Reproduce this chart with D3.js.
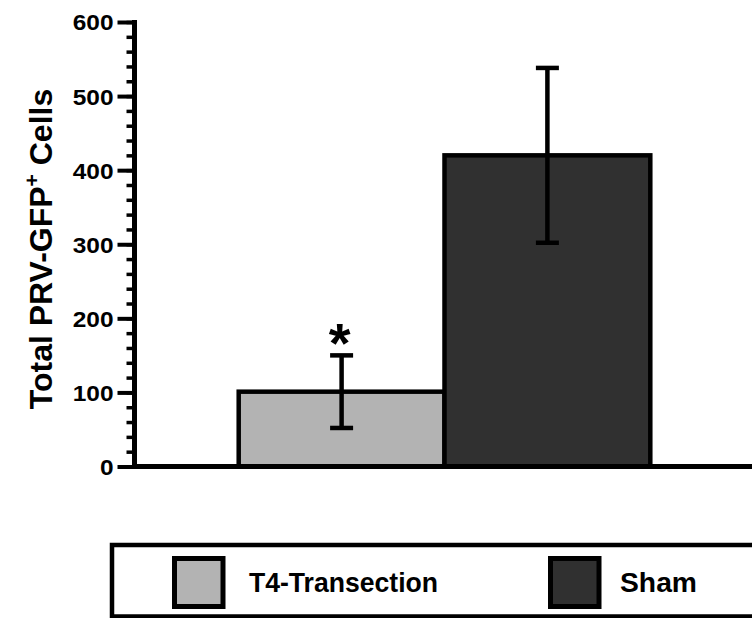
<!DOCTYPE html>
<html><head><meta charset="utf-8">
<script src="https://cdn.jsdelivr.net/npm/d3@7"></script>
<style>body{margin:0;background:#fff}svg{display:block}text{font-family:"Liberation Sans",Arial,sans-serif;font-weight:bold}</style>
</head><body>
<script>
const categories = ["T4-Transection", "Sham"];
const means = [101, 420];
const errors = [49, 118];
const colors = ["#b3b3b3", "#303030"];
const majorTicks = [0, 100, 200, 300, 400, 500, 600];
const minorTicks = d3.range(0, 601, 20);
const yTitle = "Total PRV-GFP";
const yTitleSup = "+";
const yTitleEnd = " Cells";
const significance = ["*", ""];

const W = 752, H = 618;
const svg = d3.select("body").append("svg").attr("width", W).attr("height", H);

const y = d3.scaleLinear().domain([0, 600]).range([466.5, 22]);
const x = d3.scaleBand().domain(categories).range([238.7, 650.3]).padding(0);
const axisX = 134.5;

// minor ticks
const minorAxis = d3.axisLeft(y).tickValues(minorTicks).tickSize(8).tickFormat("");
const gMinor = svg.append("g").attr("transform", `translate(${axisX},0)`).call(minorAxis);
gMinor.select(".domain").remove();
gMinor.selectAll(".tick line").attr("stroke", "#000").attr("stroke-width", 3.5);

// major ticks
const majorAxis = d3.axisLeft(y).tickValues(majorTicks).tickSize(17).tickPadding(4).tickFormat(d3.format("d"));
const gMajor = svg.append("g").attr("transform", `translate(${axisX},0)`).call(majorAxis);
gMajor.select(".domain").remove();
gMajor.selectAll(".tick line").attr("stroke", "#000").attr("stroke-width", 4);
gMajor.selectAll(".tick text")
  .attr("font-size", 22).attr("fill", "#000")
  .attr("font-family", "Liberation Sans, Arial, sans-serif").attr("font-weight", "bold")
  .attr("x", -21).attr("dy", "0.36em")
  .each(function(d){ const t = String(d); d3.select(this).attr("textLength", t.length * 13.6).attr("lengthAdjust", "spacingAndGlyphs"); });

// bars
svg.append("g").selectAll("rect").data(categories).join("rect")
  .attr("x", d => x(d)).attr("width", x.bandwidth())
  .attr("y", (d, i) => y(means[i])).attr("height", (d, i) => y(0) - y(means[i]))
  .attr("fill", (d, i) => colors[i]).attr("stroke", "#000").attr("stroke-width", 4.5);

// axes lines
svg.append("line").attr("x1", axisX).attr("x2", axisX).attr("y1", y(600) - 2).attr("y2", y(0) + 2.5)
  .attr("stroke", "#000").attr("stroke-width", 5);
svg.append("line").attr("x1", axisX - 2).attr("x2", W).attr("y1", y(0)).attr("y2", y(0))
  .attr("stroke", "#000").attr("stroke-width", 5);

// error bars
const eb = svg.append("g").attr("stroke", "#000").attr("stroke-width", 4.5);
categories.forEach((c, i) => {
  const cx = x(c) + x.bandwidth() / 2;
  eb.append("line").attr("x1", cx).attr("x2", cx).attr("y1", y(means[i] + errors[i])).attr("y2", y(means[i] - errors[i]));
  [means[i] + errors[i], means[i] - errors[i]].forEach(v => {
    eb.append("line").attr("x1", cx - 11.5).attr("x2", cx + 11.5).attr("y1", y(v)).attr("y2", y(v));
  });
  if (significance[i]) {
    svg.append("text").attr("x", cx - 2).attr("y", y(means[i] + errors[i]) + 7)
      .attr("text-anchor", "middle").attr("font-size", 56).attr("fill", "#000").text(significance[i]);
  }
});

// y title
const tt = svg.append("text").attr("transform", "translate(52,249) rotate(-90)")
  .attr("text-anchor", "middle").attr("font-size", 32).attr("fill", "#000");
tt.append("tspan").text(yTitle);
tt.append("tspan").attr("font-size", 21).attr("dy", -13).text(yTitleSup);
tt.append("tspan").attr("dy", 13).text(yTitleEnd);

// legend
svg.append("rect").attr("x", 112).attr("y", 545).attr("width", W).attr("height", 71.5)
  .attr("fill", "#fff").attr("stroke", "#000").attr("stroke-width", 4.5);
const legX = [174.5, 550.5];
const legTextX = [249, 620];
const legLen = [189, 77];
categories.forEach((c, i) => {
  svg.append("rect").attr("x", legX[i]).attr("y", 558.5).attr("width", 48.5).attr("height", 48)
    .attr("fill", colors[i]).attr("stroke", "#000").attr("stroke-width", 5);
  svg.append("text").attr("x", legTextX[i]).attr("y", 591.7).attr("font-size", 28).attr("fill", "#000")
    .attr("textLength", legLen[i]).attr("lengthAdjust", "spacingAndGlyphs").text(c);
});
</script>
</body></html>
